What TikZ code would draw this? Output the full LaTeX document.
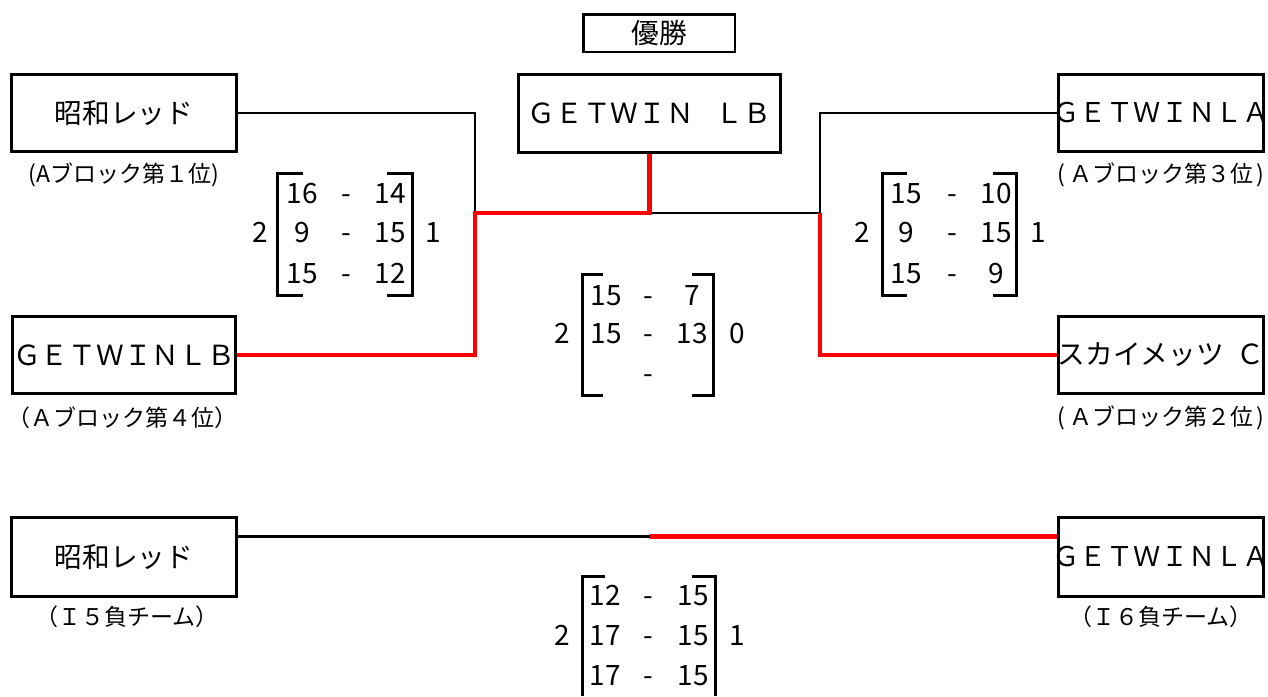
\documentclass[tikz,border=0pt]{standalone}
\usepackage{fontspec}
\setmainfont{Noto Sans CJK JP}
\usetikzlibrary{calc}
\begin{document}
\begin{tikzpicture}[x=1pt,y=-1pt,
  box/.style={draw, line width=3pt, inner sep=0pt, font=\fontsize{27.7}{30}\selectfont},
  narrowtxt/.style={font=\fontsize{27.2}{30}\selectfont},
  lab/.style={inner sep=0pt, font=\fontsize{23}{25}\selectfont},
  sc/.style={anchor=base, inner sep=0pt, font=\fontsize{28}{30}\selectfont},
  blk/.style={line width=2.8pt, black},
  rd/.style={line width=4.5pt, red},
  brk/.style={line width=3pt}]
\useasboundingbox (0,0) rectangle (1268,696);

% boxes
\node[box, line width=2.5pt, minimum width=151.5pt, minimum height=37.5pt] (win) at (659,33) {優勝};
\node[box, minimum width=262pt, minimum height=78pt] (champ) at (649.5,113.5)
  {ＧＥＴＷＩＮ\hspace{22pt}ＬＢ};
\node[box, minimum width=225pt, minimum height=77pt] (lt) at (124,113) {昭和レッド};
\node[box, minimum width=223pt, minimum height=77pt] (lb) at (124,355) {ＧＥＴＷＩＮＬＢ};
\node[box, narrowtxt, minimum width=205pt, minimum height=77pt] (rt) at (1161,113) {\makebox[195pt]{ＧＥＴＷＩＮＬＡ}};
\node[box, minimum width=205pt, minimum height=77pt] (rb) at (1161,355) {\makebox[195pt]{スカイメッツ\hspace{12.7pt}Ｃ}};
\node[box, minimum width=225pt, minimum height=79pt] (blt) at (124,557) {昭和レッド};
\node[box, narrowtxt, minimum width=205pt, minimum height=79pt] (brt) at (1161,557) {\makebox[195pt]{ＧＥＴＷＩＮＬＡ}};

% labels
\node[lab] (ltl) at (124,175) {(Aブロック第１位)};
\node[lab] (rtl) at (1161,175) {(\kern3.9pt Ａブロック第３位\kern3.9pt)};
\node[lab] (lbl) at (122,418) {（Ａブロック第４位）};
\node[lab] (rbl) at (1161,418) {(\kern3.9pt Ａブロック第２位\kern3.9pt)};
\node[lab] (bltl) at (127,617) {（Ｉ５負チーム）};
\node[lab] (brtl) at (1161,617) {（Ｉ６負チーム）};

% connectors
\coordinate (j1) at (475,213);
\coordinate (j2) at (820,213);
\coordinate (bl) at ($(blt.north east)!0.25!(blt.south east)$);
\coordinate (bm) at (champ.south |- bl);
\coordinate (br) at (brt.west |- bl);

\draw[blk] (lt.east) -| (j1);
\draw[blk] (champ.south |- j1) -- (j2);
\draw[blk] (j2) |- (rt.west);
\draw[blk] (bl) -- (bm);
\draw[rd] (lb.east) -| (j1) -| (champ.south);
\draw[rd] (j2) |- (rb.west);
\draw[rd] (bm) -- (br);

% left score group
\draw[brk] (303,173) -- (277,173) -- (277,295) -- (303,295);
\draw[brk] (387,173) -- (412,173) -- (412,295) -- (387,295);
\node[sc] (La1) at (302,203) {16};
\node[sc] (La2) at (302,242) {9};
\node[sc] (La3) at (302,283) {15};
\node[sc] (Ld1) at (346,203) {-};
\node[sc] (Ld2) at (346,242) {-};
\node[sc] (Ld3) at (346,283) {-};
\node[sc] (Lb1) at (390,203) {14};
\node[sc] (Lb2) at (390,242) {15};
\node[sc] (Lb3) at (390,283) {12};
\node[sc] (Lw) at (260,242) {2};
\node[sc] (Ll) at (433,242) {1};

% right score group
\draw[brk] (907,173) -- (882,173) -- (882,295) -- (907,295);
\draw[brk] (993,173) -- (1016,173) -- (1016,295) -- (993,295);
\node[sc] (Ra1) at (906,203) {15};
\node[sc] (Ra2) at (906,242) {9};
\node[sc] (Ra3) at (906,283) {15};
\node[sc] (Rd1) at (952,203) {-};
\node[sc] (Rd2) at (952,242) {-};
\node[sc] (Rd3) at (952,283) {-};
\node[sc] (Rb1) at (996,203) {10};
\node[sc] (Rb2) at (996,242) {15};
\node[sc] (Rb3) at (996,283) {9};
\node[sc] (Rw) at (862,242) {2};
\node[sc] (Rl) at (1038,242) {1};

% middle score group
\draw[brk] (603,274) -- (582,274) -- (582,395) -- (603,395);
\draw[brk] (692,274) -- (713,274) -- (713,395) -- (692,395);
\node[sc] (Ma1) at (606,305) {15};
\node[sc] (Ma2) at (606,343) {15};
\node[sc] (Md1) at (648,305) {-};
\node[sc] (Md2) at (648,343) {-};
\node[sc] (Md3) at (648,383) {-};
\node[sc] (Mb1) at (692,305) {7};
\node[sc] (Mb2) at (692,343) {13};
\node[sc] (Mw) at (562,343) {2};
\node[sc] (Ml) at (737,343) {0};

% bottom score group
\draw[brk] (605,576) -- (582,576) -- (582,696);
\draw[brk] (692,576) -- (715,576) -- (715,696);
\node[sc] (Ba1) at (605,605) {12};
\node[sc] (Ba2) at (605,645) {17};
\node[sc] (Ba3) at (605,685) {17};
\node[sc] (Bd1) at (648,605) {-};
\node[sc] (Bd2) at (648,645) {-};
\node[sc] (Bd3) at (648,685) {-};
\node[sc] (Bb1) at (693,605) {15};
\node[sc] (Bb2) at (693,645) {15};
\node[sc] (Bb3) at (693,685) {15};
\node[sc] (Bw) at (562,645) {2};
\node[sc] (Bl) at (737,645) {1};
\end{tikzpicture}
\end{document}
